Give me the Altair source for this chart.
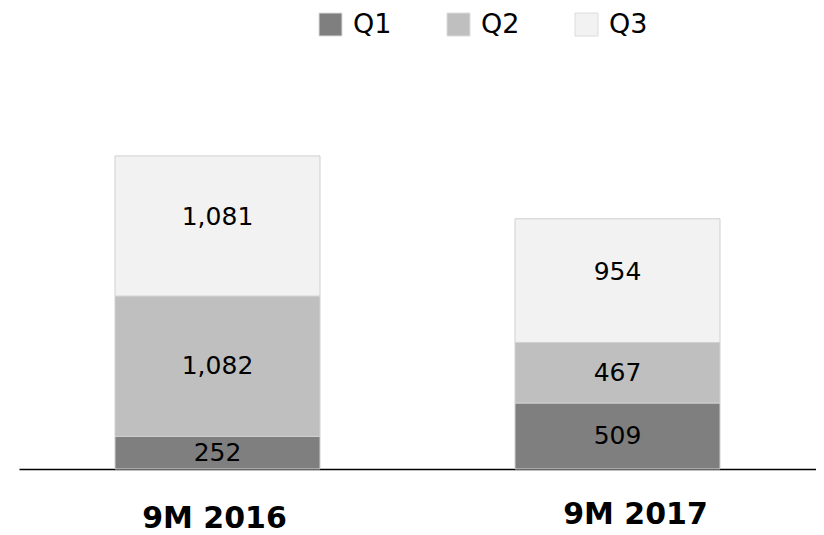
import altair as alt
import pandas as pd

periods = ["9M 2016", "9M 2017"]
quarters = ["Q1", "Q2", "Q3"]
q1_values = [252, 509]
q2_values = [1082, 467]
q3_values = [1081, 954]
colors = ["#7f7f7f", "#bfbfbf", "#f2f2f2"]

rows = []
for i, p in enumerate(periods):
    for k, (q, vals) in enumerate(zip(quarters, [q1_values, q2_values, q3_values])):
        rows.append({"period": p, "quarter": q, "value": vals[i], "order": k})
df = pd.DataFrame(rows)

x_enc = alt.X(
    "period:N",
    sort=periods,
    scale=alt.Scale(paddingInner=0.4875, paddingOuter=0.24),
    axis=alt.Axis(
        title=None,
        labelAngle=0,
        labelFont="DejaVu Sans",
        labelFontWeight="bold",
        labelFontSize=30,
        labelColor="black",
        ticks=False,
        grid=False,
        domainColor="black",
        domainWidth=1.5,
        labelPadding={"condition": {"test": "datum.value == '9M 2017'", "value": 30}, "value": 34},
        labelOffset={"condition": {"test": "datum.value == '9M 2017'", "value": 18}, "value": -3},
    ),
)

y_scale = alt.Scale(domain=[0, 2800])

bars = alt.Chart(df).mark_bar(stroke="#d0d0d0", strokeWidth=1).encode(
    x=x_enc,
    y=alt.Y("value:Q", stack="zero", scale=y_scale, axis=None),
    color=alt.Color(
        "quarter:N",
        scale=alt.Scale(domain=quarters, range=colors),
        legend=alt.Legend(
            title=None,
            orient="none",
            legendX=298,
            legendY=-95,
            direction="horizontal",
            symbolType="square",
            symbolSize=529,
            symbolStrokeWidth=1,
            symbolStrokeColor="#dcdcdc",
            symbolOpacity=1,
            labelFont="DejaVu Sans",
            labelFontSize=27,
            labelColor="black",
            labelOffset=9,
            columnPadding=53,
        ),
    ),
    order=alt.Order("order:Q", sort="ascending"),
)

stacked = alt.Chart(df).transform_stack(
    stack="value",
    groupby=["period"],
    as_=["y0", "y1"],
    sort=[alt.SortField("order", order="ascending")],
).transform_calculate(
    mid="(datum.y0 + datum.y1) / 2",
    label="format(datum.value, ',')",
)

text_enc = dict(
    x=alt.X("period:N", sort=periods),
    y=alt.Y("mid:Q", scale=y_scale),
    text="label:N",
)

labels_low = stacked.transform_filter("datum.quarter != 'Q3'").mark_text(
    font="DejaVu Sans", fontSize=25, color="black", baseline="middle"
).encode(**text_enc)

labels_top = stacked.transform_filter("datum.quarter == 'Q3'").mark_text(
    font="DejaVu Sans", fontSize=25, color="black", baseline="middle", dy=-9
).encode(**text_enc)

chart = alt.layer(bars, labels_low, labels_top).properties(
    width=797,
    height=363,
    padding={"left": 11, "top": 98, "right": 0, "bottom": 66},
    autosize=alt.AutoSizeParams(type="none"),
).configure_view(strokeWidth=0)

chart.save("out.html", embed_options={"renderer": "svg", "actions": False})
